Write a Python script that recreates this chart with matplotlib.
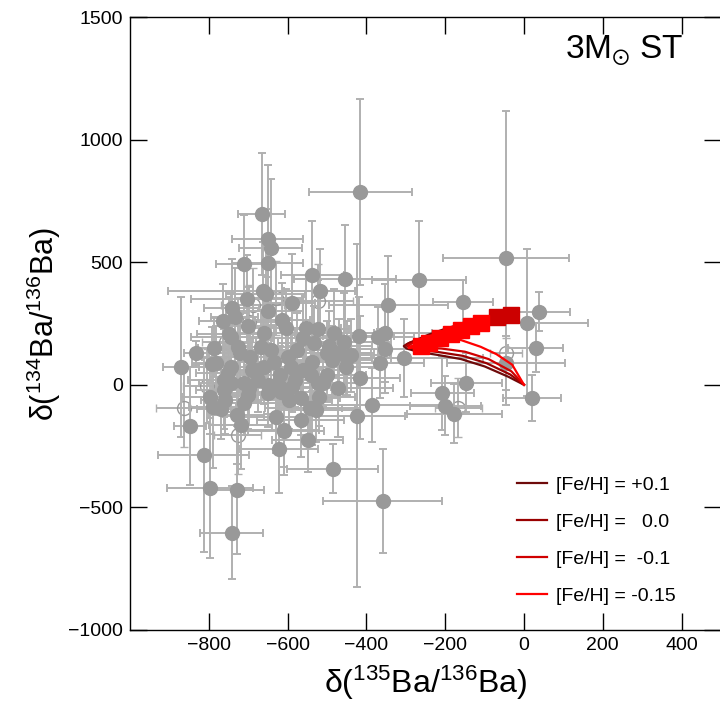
import matplotlib
matplotlib.use("Agg")
from matplotlib import pyplot as plt

plt.rcParams['font.family'] = ['Liberation Sans', 'DejaVu Sans']
plt.rcParams['mathtext.fontset'] = 'custom'
plt.rcParams['mathtext.rm'] = 'Liberation Sans'
plt.rcParams['mathtext.default'] = 'regular'

# grains (filled symbols): d135, d134, errors
x_fill = [-415, -666, -651, -643, -711, -651, -537, -455, -266, -154, -344, -519, -46, 38, 8, 30,
          -46, 20, -147, -208, -200, -177, -304, -354, -354, -370, -365, -415, -387, -423, -473,
          -848, -813, -797, -729, -742, -623, -608, -549, -486, -359, -630, -567, -790, -719, -729,
          -871, -833, -787, -792, -797, -744, -762, -537, -696, -744, -663, -656, -704, -590, -742,
          -765, -613, -734, -554, -524, -749, -661, -668, -727, -635, -575, -534, -499, -481, -458,
          -448, -453, -537, -560, -524, -511, -592, -625, -618, -597, -567, -542, -610, -529, -661,
          -676, -711, -744, -752, -711, -762, -699, -651, -643, -690, -782, -600, -620, -580, -500,
          -470, -560, -590, -650, -700, -680, -540, -487, -520, -760, -770, -420, -440, -495, -605,
          -700, -650, -720]
y_fill = [787, 697, 596, 559, 494, 498, 449, 432, 428, 339, 326, 383, 518, 298, 253, 151,
          90, -53, 8, -33, -86, -118, 110, 212, 147, 196, 88, 29, -82, -126, -12,
          -167, -286, -420, -429, -603, -262, -188, -224, -343, -473, -130, -143, -90, -163, -122,
          73, 130, 151, 86, -49, 73, 20, -94, 114, 196, 383, 371, 351, 334, 314,
          261, 265, 277, 233, 228, 208, 212, 155, 155, 94, 143, 171, 131, 212, 175,
          110, 73, 94, 61, 8, 8, 73, 8, -29, -61, -53, -94, -184, -102, 73,
          20, 8, 8, 49, -73, -20, -12, -33, 143, 60, 90, 114, 40, 20, 40,
          130, 190, -10, 0, -40, 60, 40, 100, -50, -60, -100, 200, 120, 160, 230,
          240, 300, 130]
xe_fill = [130, 60, 90, 80, 70, 90, 80, 130, 120, 76, 150, 90, 160, 80, 155, 70,
           150, 73, 90, 80, 90, 120, 200, 120, 100, 90, 110, 100, 180, 120, 140,
           40, 115, 110, 70, 80, 100, 100, 90, 115, 150, 80, 110, 60, 80, 70,
           45, 30, 40, 40, 70, 80, 90, 120, 120, 100, 240, 100, 140, 60, 70,
           60, 70, 60, 90, 80, 80, 80, 90, 70, 110, 100, 90, 110, 100, 120,
           110, 100, 120, 90, 100, 90, 100, 90, 100, 110, 100, 80, 90, 100, 90,
           100, 90, 80, 80, 100, 70, 80, 90, 100, 90, 60, 100, 100, 90, 100,
           90, 80, 100, 90, 70, 90, 90, 100, 90, 60, 60, 90, 100, 110, 80,
           70, 90, 80]
ye_fill = [380, 250, 300, 280, 200, 220, 220, 220, 240, 90, 200, 170, 600, 80, 300, 100,
           110, 95, 120, 150, 120, 120, 160, 200, 180, 120, 140, 250, 150, 700, 200,
           240, 395, 285, 260, 190, 180, 180, 130, 100, 212, 150, 150, 250, 180, 200,
           285, 50, 120, 150, 150, 200, 150, 150, 120, 180, 200, 200, 180, 200, 200,
           150, 150, 200, 200, 200, 150, 180, 150, 200, 150, 150, 150, 130, 180, 200,
           150, 120, 120, 100, 120, 100, 130, 150, 120, 120, 150, 150, 150, 130, 150,
           130, 150, 130, 160, 130, 160, 150, 140, 150, 130, 150, 160, 120, 110, 110,
           140, 150, 100, 120, 140, 130, 110, 140, 120, 140, 120, 160, 150, 140, 160,
           160, 140, 160]

# grains (open symbols)
x_open = [-46, -167, -863, -727, -805, -689, -630, -524, -699, -757]
y_open = [131, -94, -94, -204, -4, 326, 355, 343, 257, 175]
xe_open = [40, 60, 70, 60, 60, 80, 70, 90, 80, 60]
ye_open = [60, 120, 160, 160, 150, 150, 150, 150, 150, 150]

# model curves, thin part then C-rich (thick) part
p01_x = [0, -40, -100, -160, -220, -270, -298, -305, -295, -280, -243, -192, -144, -100, -80]
p01_y = [0, 33, 75, 105, 122, 135, 148, 158, 168, 178, 204, 233, 253, 268, 275]
z00_x = [0, -35, -95, -155, -215, -265, -292, -300, -290, -270, -235, -190, -145, -105, -85]
z00_y = [0, 42, 88, 118, 133, 143, 153, 162, 172, 183, 205, 228, 248, 262, 270]
m01_x = [0, -32, -90, -150, -210, -260, -288, -295, -285, -260, -220, -180, -140, -105, -85]
m01_y = [0, 55, 105, 135, 148, 152, 155, 160, 168, 182, 200, 220, 240, 256, 266]
m01_thick_x = [-68, -33]
m01_thick_y = [277, 286]
m015_x = [0, -30, -70, -110, -170, -240, -285, -293, -280, -262]
m015_y = [0, 82, 125, 155, 188, 175, 158, 150, 152, 160]
m015_thick_x = [-262, -240, -213, -185, -160, -135, -110]
m015_thick_y = [160, 172, 190, 207, 225, 238, 250]

fig = plt.figure(figsize=(7.2, 7.05), dpi=100)
ax = fig.add_axes([130/720, 75/705, 591/720, 613/705])

eb = dict(fmt='o', ms=10, ecolor='#b0b0b0', elinewidth=1.4, capsize=3, capthick=1.4)
ax.errorbar(x_open, y_open, xerr=xe_open, yerr=ye_open, mfc='none', mec='#999999', mew=1,
            zorder=1, **eb)
ax.errorbar(x_fill, y_fill, xerr=xe_fill, yerr=ye_fill, mfc='#999999', mec='#999999',
            zorder=2, **eb)

ax.plot(p01_x, p01_y, color='#6e0a0a', lw=1.6, zorder=4, label='[Fe/H] = +0.1')
ax.plot(z00_x, z00_y, color='#990000', lw=1.6, zorder=4, label='[Fe/H] =   0.0')
ax.plot(m01_x, m01_y, color='#d00000', lw=1.6, zorder=4, label='[Fe/H] =  -0.1')
ax.plot(m015_x, m015_y, color='#ff0000', lw=1.6, zorder=5, label='[Fe/H] = -0.15')
ax.plot([-110, -85], [250, 266], color='#ff0000', lw=1.6, zorder=5)
ax.plot(m01_thick_x, m01_thick_y, color='#cc0000', lw=10, marker='s', ms=11,
        solid_capstyle='butt', zorder=6)
ax.plot(m015_thick_x, m015_thick_y, color='#ff0000', lw=10, marker='s', ms=11,
        solid_capstyle='butt', zorder=6)

ax.set_xlim(-1000, 500)
ax.set_ylim(-1000, 1500)
ax.set_xticks([-800, -600, -400, -200, 0, 200, 400])
ax.set_yticks([-1000, -500, 0, 500, 1000, 1500])
ax.tick_params(direction='in', length=12, width=1, top=True, right=True, labelsize=14, pad=5)
for s in ax.spines.values():
    s.set_linewidth(1)

ax.set_xlabel('δ($^{135}$Ba/$^{136}$Ba)', fontsize=23, labelpad=7)
ax.set_ylabel('δ($^{134}$Ba/$^{136}$Ba)', fontsize=22, labelpad=4)

ax.text(0.937, 0.945, r'3M$_{\odot}$ ST', transform=ax.transAxes, fontsize=24,
        ha='right', va='center')

ax.legend(loc='upper left', bbox_to_anchor=(0.655, 0.251), frameon=False, fontsize=14,
          handlelength=1.55, handletextpad=0.45, labelspacing=1.0, borderpad=0, borderaxespad=0)

plt.savefig('out.png', dpi=100)
